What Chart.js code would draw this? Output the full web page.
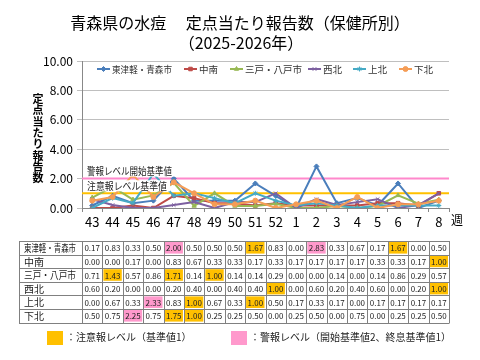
<!DOCTYPE html>
<html>
<head>
<meta charset="utf-8">
<script src="https://cdn.jsdelivr.net/npm/chart.js@4.4.1/dist/chart.umd.min.js"></script>
<style>
  html, body { margin: 0; padding: 0; background: #fff; }
  canvas { display: block; }
</style>
</head>
<body>
<canvas id="chart" width="480" height="360"></canvas>
<script>
// weeks (2025 wk43 .. 2026 wk8)
const weeks = ["43", "44", "45", "46", "47", "48", "49", "50", "51", "52", "1", "2", "3", "4", "5", "6", "7", "8"];

const seriesNames = ["東津軽・青森市", "中南", "三戸・八戸市", "西北", "上北", "下北"];
const higashiTsugaru = [0.17, 0.83, 0.33, 0.50, 2.00, 0.50, 0.50, 0.50, 1.67, 0.83, 0.00, 2.83, 0.33, 0.67, 0.17, 1.67, 0.00, 0.50];
const chunan = [0.00, 0.00, 0.17, 0.00, 0.83, 0.67, 0.33, 0.33, 0.17, 0.33, 0.17, 0.17, 0.17, 0.17, 0.33, 0.33, 0.17, 1.00];
const sannohe = [0.71, 1.43, 0.57, 0.86, 1.71, 0.14, 1.00, 0.14, 0.14, 0.29, 0.00, 0.00, 0.14, 0.00, 0.14, 0.86, 0.29, 0.57];
const seihoku = [0.60, 0.20, 0.00, 0.00, 0.20, 0.40, 0.00, 0.40, 0.40, 1.00, 0.00, 0.60, 0.20, 0.40, 0.60, 0.00, 0.20, 1.00];
const jouhoku = [0.00, 0.67, 0.33, 2.33, 0.83, 1.00, 0.67, 0.33, 1.00, 0.50, 0.17, 0.33, 0.17, 0.00, 0.17, 0.17, 0.17, 0.17];
const kahoku = [0.50, 0.75, 2.25, 0.75, 1.75, 1.00, 0.25, 0.25, 0.50, 0.00, 0.25, 0.50, 0.00, 0.75, 0.00, 0.25, 0.25, 0.50];
const seriesValues = [higashiTsugaru, chunan, sannohe, seihoku, jouhoku, kahoku];

const yTicks = [0, 1, 2, 3, 4, 5, 6, 7, 8, 9, 10];
const alarmLevel = 2;    // 警報レベル開始基準値
const warningLevel = 1;  // 注意報レベル基準値

const colors = ["#4A7EBB", "#BE4B48", "#98B954", "#7D60A0", "#46AAC5", "#F59D56"];
const markers = ["rectRot", "rect", "triangle", "crossRot", "star", "circle"];
const FONT = '"Noto Sans CJK JP", "Noto Sans", sans-serif';
const ALARM_COLOR = "#FF88CC";
const WARN_COLOR = "#FFC000";
const CELL_PINK = "#FF99CC";
const CELL_YELLOW = "#FFC000";

const datasets = seriesNames.map((name, i) => ({
  label: name,
  data: seriesValues[i],
  borderColor: colors[i],
  backgroundColor: colors[i],
  borderWidth: 2,
  pointStyle: markers[i],
  pointRadius: 2.5,
  pointBorderWidth: 1,
  tension: 0,
  order: seriesNames.length - i
}));

function drawMarker(ctx, style, x, y, color) {
  ctx.save();
  ctx.fillStyle = color;
  ctx.strokeStyle = color;
  ctx.lineWidth = 1;
  if (Chart.helpers && Chart.helpers.drawPoint) {
    Chart.helpers.drawPoint(ctx, { pointStyle: style, radius: 2.5, rotation: 0, borderWidth: 1 }, x, y);
  }
  ctx.restore();
}

const decor = {
  id: "decor",
  beforeDatasetsDraw(chart) {
    const { ctx, chartArea, scales } = chart;
    ctx.save();
    ctx.lineWidth = 2;
    [[alarmLevel, ALARM_COLOR], [warningLevel, WARN_COLOR]].forEach(([v, c]) => {
      const y = scales.y.getPixelForValue(v);
      ctx.strokeStyle = c;
      ctx.beginPath();
      ctx.moveTo(chartArea.left, y);
      ctx.lineTo(chartArea.right, y);
      ctx.stroke();
    });
    ctx.restore();
  },
  afterDatasetsDraw(chart) {
    const { ctx, chartArea, scales } = chart;
    ctx.save();
    ctx.font = "10px " + FONT;
    ctx.textBaseline = "middle";
    const labels = [["警報レベル開始基準値", alarmLevel, 85], ["注意報レベル基準値", warningLevel, 80]];
    labels.forEach(([t, v, w]) => {
      const y = scales.y.getPixelForValue(v) - 7;
      ctx.fillStyle = "#fff";
      ctx.fillRect(chartArea.left + 2, y - 6, w + 6, 11);
      ctx.fillStyle = "#222";
      ctx.fillText(t, chartArea.left + 5, y, w);
    });
    ctx.restore();
  },
  afterDraw(chart) {
    const { ctx, chartArea, scales } = chart;
    const x = scales.x;
    ctx.save();

    // title
    ctx.fillStyle = "#000";
    ctx.textAlign = "center";
    ctx.textBaseline = "middle";
    ctx.font = "16px " + FONT;
    ctx.fillText("青森県の水痘　 定点当たり報告数（保健所別）", 240, 23);
    ctx.fillText("（2025-2026年）", 241, 43);

    // y axis title (vertical)
    ctx.font = "bold 11px " + FONT;
    const yTitle = "定点当たり報告数";
    for (let i = 0; i < yTitle.length; i++) {
      ctx.fillText(yTitle[i], 38, 99 + i * 11.3);
    }

    // "週"
    ctx.font = "12px " + FONT;
    ctx.fillText("週", 457, 220);

    // legend inside plot
    ctx.font = "9.5px " + FONT;
    ctx.textAlign = "left";
    const legendX = [97, 184, 230, 308, 353, 399];
    const legendW = [60, 20, 57, 20, 20, 20];
    const ly = 69;
    seriesNames.forEach((name, i) => {
      const lx = legendX[i];
      ctx.strokeStyle = colors[i];
      ctx.lineWidth = 2;
      ctx.beginPath();
      ctx.moveTo(lx, ly);
      ctx.lineTo(lx + 13, ly);
      ctx.stroke();
      drawMarker(ctx, markers[i], lx + 6.5, ly, colors[i]);
      ctx.fillStyle = "#333";
      ctx.fillText(name, lx + 15, ly, legendW[i]);
    });

    // data table
    const half = (x.getPixelForValue(1) - x.getPixelForValue(0)) / 2;
    const tLeft = 19;
    const tTop = 241;
    const rowH = 13.6;
    const tRight = x.getPixelForValue(weeks.length - 1) + half;
    seriesNames.forEach((name, r) => {
      const top = tTop + r * rowH;
      seriesValues[r].forEach((v, c) => {
        const cx = x.getPixelForValue(c);
        let fill = null;
        if (v >= alarmLevel) fill = CELL_PINK;
        else if (v >= warningLevel) fill = CELL_YELLOW;
        if (fill) {
          ctx.fillStyle = fill;
          ctx.fillRect(cx - half + 1, top + 1, half * 2 - 2, rowH - 2);
        }
        ctx.fillStyle = "#222";
        ctx.font = "8px " + FONT;
        ctx.textAlign = "center";
        ctx.fillText(v.toFixed(2), cx, top + rowH / 2 + 0.5, half * 2 - 3);
      });
      ctx.font = "10px " + FONT;
      ctx.textAlign = "left";
      ctx.fillStyle = "#222";
      ctx.fillText(name, tLeft + 5, top + rowH / 2 + 0.5, 52);
    });
    ctx.strokeStyle = "#808080";
    ctx.lineWidth = 1;
    ctx.beginPath();
    for (let r = 0; r <= seriesNames.length; r++) {
      const y = Math.round(tTop + r * rowH) + 0.5;
      ctx.moveTo(tLeft, y);
      ctx.lineTo(tRight, y);
    }
    const bottom = Math.round(tTop + seriesNames.length * rowH) + 0.5;
    ctx.moveTo(tLeft + 0.5, tTop);
    ctx.lineTo(tLeft + 0.5, bottom);
    for (let c = 0; c <= weeks.length; c++) {
      const vx = Math.round(x.getPixelForValue(c) - half) + 0.5;
      ctx.moveTo(vx, tTop);
      ctx.lineTo(vx, bottom);
    }
    ctx.stroke();

    // bottom legend
    ctx.fillStyle = CELL_YELLOW;
    ctx.fillRect(47, 331, 16, 14);
    ctx.fillStyle = CELL_PINK;
    ctx.fillRect(231, 331, 16, 14);
    ctx.fillStyle = "#222";
    ctx.font = "10px " + FONT;
    ctx.textAlign = "left";
    ctx.fillText("：注意報レベル（基準値1）", 66, 337);
    ctx.fillText("：警報レベル（開始基準値2、終息基準値1）", 250, 337);

    ctx.restore();
  }
};

new Chart(document.getElementById("chart"), {
  type: "line",
  data: { labels: weeks, datasets: datasets },
  options: {
    responsive: false,
    animation: false,
    devicePixelRatio: 1,
    layout: { padding: { top: 61, right: 31, bottom: 122, left: 0 } },
    plugins: { legend: { display: false }, title: { display: false }, tooltip: { enabled: false } },
    scales: {
      x: {
        offset: true,
        afterFit(s) { s.height = 30; },
        grid: { display: true, drawOnChartArea: false, offset: true, tickLength: 4, color: "#888" },
        border: { color: "#888" },
        ticks: { color: "#000", font: { size: 13, family: FONT }, padding: 2, maxRotation: 0, autoSkip: false }
      },
      y: {
        min: 0,
        max: 10,
        afterFit(s) { s.width = 82; },
        afterBuildTicks(s) { s.ticks = yTicks.map(v => ({ value: v })); },
        grid: { color: "#BFBFBF", tickLength: 5, lineWidth: 1 },
        border: { color: "#888" },
        ticks: { color: "#000", font: { size: 12, family: FONT }, padding: 4, callback: v => v.toFixed(2) }
      }
    }
  },
  plugins: [decor]
});
</script>
</body>
</html>
